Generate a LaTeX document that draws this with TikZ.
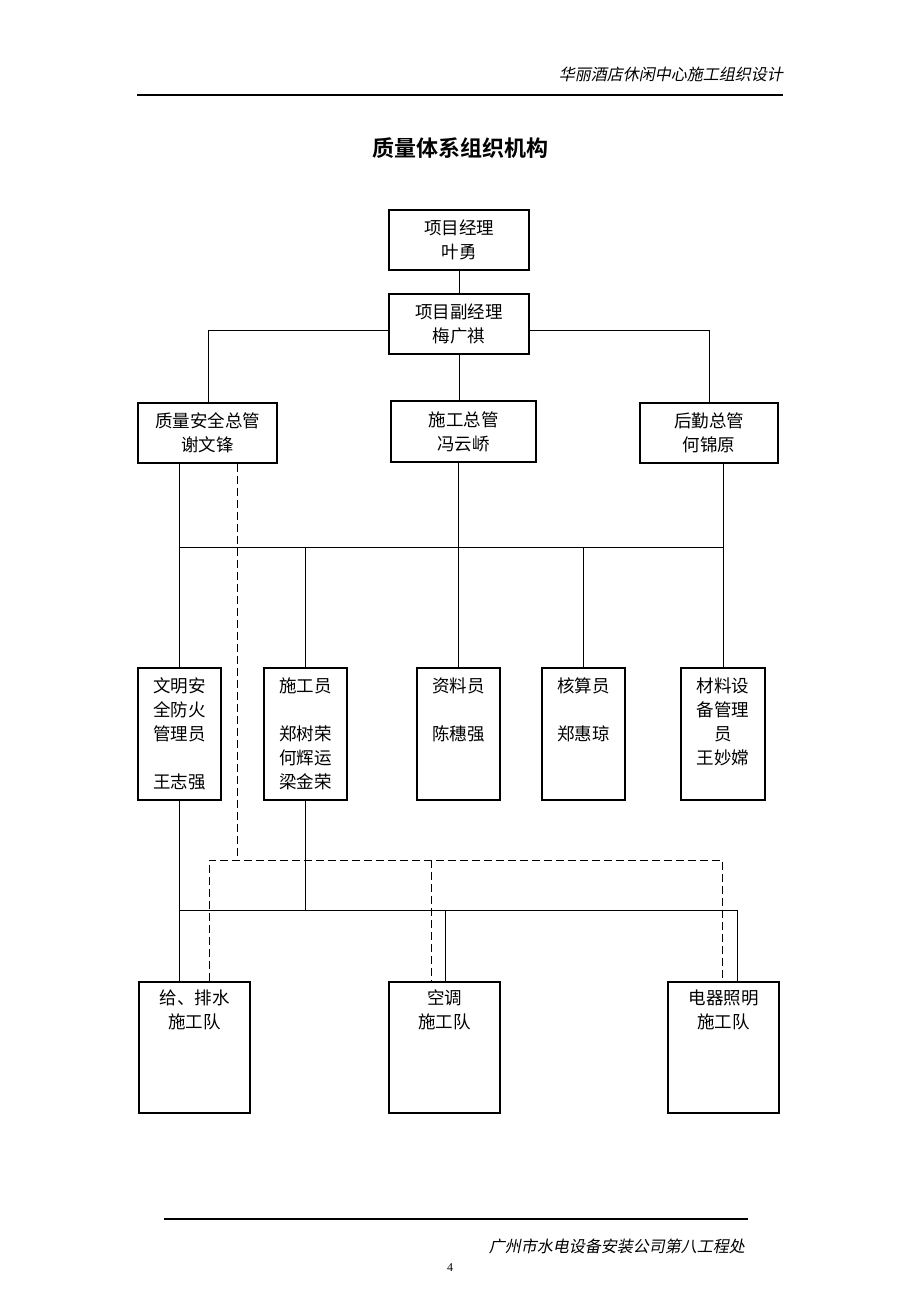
\documentclass[tikz,border=0pt]{standalone}
\usepackage{fontspec}
\setmainfont{Liberation Serif}
\newfontfamily\cjk[BoldFont={Noto Sans CJK SC Bold}]{Noto Sans CJK SC}
\newfontfamily\cjkit[FakeSlant=0.2]{Noto Sans CJK SC}
\begin{document}
\begin{tikzpicture}[x=1pt,y=-1pt,
  box/.style={draw, line width=1.3pt, inner sep=0pt},
  boxtext/.style={font=\cjk\fontsize{17.5}{24}\selectfont, align=center, inner sep=0pt},
  conn/.style={line width=1pt},
  dconn/.style={line width=1pt, dash pattern=on 8pt off 4pt}]
\useasboundingbox (0,0) rectangle (920,1302);

% header and footer
\node[font=\cjkit\fontsize{16}{18}\selectfont, anchor=east, inner sep=0pt] (hdr) at (783,74) {华丽酒店休闲中心施工组织设计};
\draw[line width=1.2pt] (137,95) coordinate (hl1) -- (783,95) coordinate (hl2);
\node[font=\cjk\bfseries\fontsize{22}{26}\selectfont, inner sep=0pt] (title) at (460,148) {质量体系组织机构};
\draw[line width=1.2pt] (164,1219) coordinate (fl1) -- (748,1219) coordinate (fl2);
\node[font=\cjkit\fontsize{16}{18}\selectfont, anchor=east, inner sep=0pt] (ftr) at (745,1246) {广州市水电设备安装公司第八工程处};
\node[font=\fontsize{12}{14}\selectfont, inner sep=0pt] (pg) at (450,1268) {4};

% top boxes
\node[box, minimum width=140pt, minimum height=60pt] (pm) at (459,240) {};
\node[boxtext] (pmt) at (pm.center) {项目经理\\叶勇};
\node[box, minimum width=140pt, minimum height=60pt] (dpm) at (459,324) {};
\node[boxtext] (dpmt) at (dpm.center) {项目副经理\\梅广祺};

% second level
\node[box, minimum width=139pt, minimum height=60pt] (qa) at (207.5,433) {};
\node[boxtext] (qat) at (qa.center) {质量安全总管\\谢文锋};
\node[box, minimum width=145pt, minimum height=61pt] (sz) at (463.5,431.5) {};
\node[boxtext] (szt) at (sz.center) {施工总管\\冯云峤};
\node[box, minimum width=138pt, minimum height=60pt] (hq) at (709,433) {};
\node[boxtext] (hqt) at (hq.center) {后勤总管\\何锦原};

% third level
\node[box, minimum width=83pt, minimum height=132pt] (wm) at (179.5,734) {};
\node[boxtext, anchor=north] (wmt) at ([yshift=-10pt]wm.north) {文明安\\全防火\\管理员\\\mbox{}\\王志强};
\node[box, minimum width=83pt, minimum height=132pt] (sg) at (305.5,734) {};
\node[boxtext, anchor=north] (sgt) at ([yshift=-10pt]sg.north) {施工员\\\mbox{}\\郑树荣\\何辉运\\梁金荣};
\node[box, minimum width=83pt, minimum height=132pt] (zl) at (458.5,734) {};
\node[boxtext, anchor=north] (zlt) at ([yshift=-10pt]zl.north) {资料员\\\mbox{}\\陈穗强};
\node[box, minimum width=83pt, minimum height=132pt] (hs) at (583.5,734) {};
\node[boxtext, anchor=north] (hst) at ([yshift=-10pt]hs.north) {核算员\\\mbox{}\\郑惠琼};
\node[box, minimum width=84pt, minimum height=132pt] (cl) at (723,734) {};
\node[boxtext, anchor=north] (clt) at ([yshift=-10pt]cl.north) {材料设\\备管理\\员\\王妙嫦};

% bottom teams
\node[box, minimum width=111pt, minimum height=131pt] (gp) at (194.5,1047.5) {};
\node[boxtext, anchor=north] (gpt) at ([yshift=-8pt]gp.north) {给、排水\\施工队};
\node[box, minimum width=111pt, minimum height=131pt] (kt) at (444.5,1047.5) {};
\node[boxtext, anchor=north] (ktt) at ([yshift=-8pt]kt.north) {空调\\施工队};
\node[box, minimum width=111pt, minimum height=131pt] (dq) at (723.5,1047.5) {};
\node[boxtext, anchor=north] (dqt) at ([yshift=-8pt]dq.north) {电器照明\\施工队};

% coordinates for buses
\coordinate (b1l) at (208,330);
\coordinate (b1r) at (709,330);
\coordinate (b2) at (0,547);
\coordinate (b3) at (0,910);
\coordinate (b3r) at (737,910);
\coordinate (b3m) at (445,910);
\coordinate (d0) at (237,860);
\coordinate (dl) at (209,860);
\coordinate (dm) at (431,860);
\coordinate (dr) at (722,860);

% solid connectors
\draw[conn] (pm.south) -- (dpm.north);
\draw[conn] (dpm.west |- b1l) -- (b1l) -- (b1l |- qa.north);
\draw[conn] (dpm.east |- b1r) -- (b1r) -- (b1r |- hq.north);
\draw[conn] (dpm.south) -- (dpm.south |- sz.north);
\draw[conn] (qa.south -| wm.north) -- (wm.north);
\draw[conn] (hq.south -| cl.north) -- (cl.north);
\draw[conn] (sz.south -| zl.north) -- (zl.north);
\draw[conn] (wm.north |- b2) -- (cl.north |- b2);
\draw[conn] (sg.north |- b2) -- (sg.north);
\draw[conn] (hs.north |- b2) -- (hs.north);
\draw[conn] (wm.south) -- (wm.south |- gp.north);
\draw[conn] (sg.south) -- (sg.south |- b3);
\draw[conn] (wm.south |- b3) -- (b3r) -- (b3r |- dq.north);
\draw[conn] (b3m) -- (b3m |- kt.north);

% dashed connectors
\draw[dconn] (qa.south -| d0) -- (d0);
\draw[dconn] (dl |- gp.north) -- (dl) -- (dr) -- (dr |- dq.north);
\draw[dconn] (dm) -- (dm |- kt.north);
\end{tikzpicture}
\end{document}
